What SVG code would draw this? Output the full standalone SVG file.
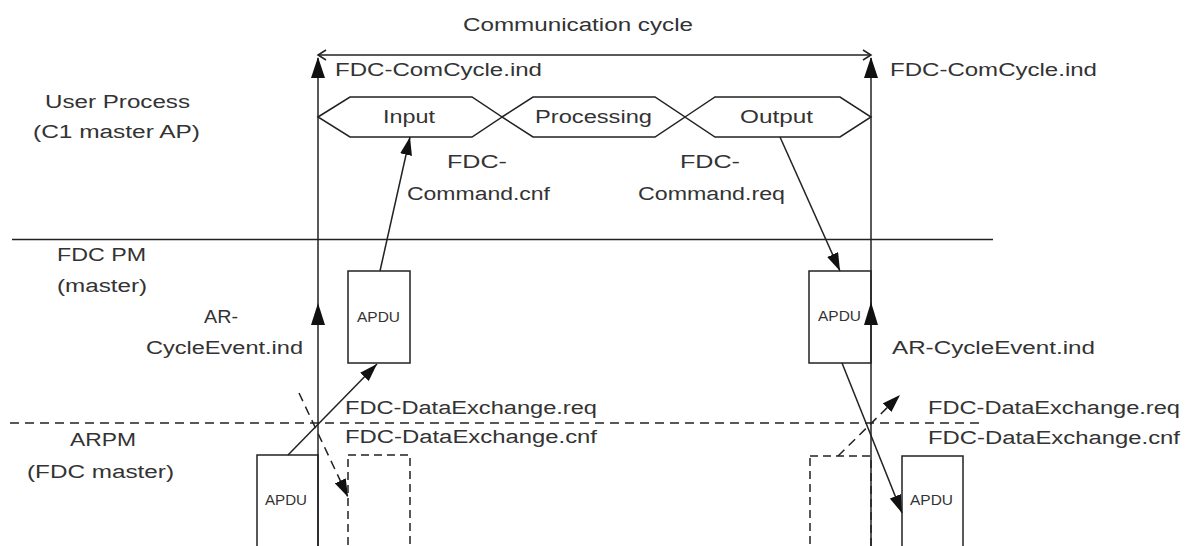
<svg xmlns="http://www.w3.org/2000/svg" width="1189" height="546" viewBox="0 0 1189 546">
  <style>
    .t { font-family: "Liberation Sans", Arial, sans-serif; font-size: 18px; fill: #333; }
    .s { font-family: "Liberation Sans", Arial, sans-serif; font-size: 15px; fill: #333; }
    .ln { stroke: #222; stroke-width: 1.5; fill: none; }
    .dash { stroke: #222; stroke-width: 1.5; fill: none; stroke-dasharray: 9 6; }
    .box { stroke: #222; stroke-width: 1.5; fill: #fff; }
    .dbox { stroke: #222; stroke-width: 1.5; fill: none; stroke-dasharray: 8 5; }
    .head { fill: #111; stroke: none; }
  </style>
  <defs>
    <marker id="arrow" markerUnits="userSpaceOnUse" markerWidth="18" markerHeight="12" viewBox="0 0 18 12" refX="18" refY="6" orient="auto">
      <path d="M0,0 L18,6 L0,12 z" fill="#111"/>
    </marker>
  </defs>
  <rect width="1189" height="546" fill="#fff"/>

  <!-- layer labels -->
  <g id="labels">
    <text class="t" x="463" y="31" textLength="230" lengthAdjust="spacingAndGlyphs">Communication cycle</text>
    <text class="t" x="45" y="108" textLength="145" lengthAdjust="spacingAndGlyphs">User Process</text>
    <text class="t" x="33" y="138" textLength="167" lengthAdjust="spacingAndGlyphs">(C1 master AP)</text>
    <text class="t" x="57" y="261" textLength="89" lengthAdjust="spacingAndGlyphs">FDC PM</text>
    <text class="t" x="57" y="292" textLength="90" lengthAdjust="spacingAndGlyphs">(master)</text>
    <text class="t" x="70" y="446" textLength="66" lengthAdjust="spacingAndGlyphs">ARPM</text>
    <text class="t" x="27" y="478" textLength="147" lengthAdjust="spacingAndGlyphs">(FDC master)</text>
  </g>

  <!-- layer boundaries -->
  <g id="boundaries">
    <line class="ln" x1="12" y1="239.5" x2="993" y2="239.5"/>
    <line class="dash" x1="10" y1="423" x2="985" y2="423"/>
  </g>

  <!-- process phases -->
  <g id="phase-input">
    <polygon class="ln" points="318,117 350,97 472,97 502,117 472,137 350,137"/>
    <text class="t" x="383" y="123" textLength="52" lengthAdjust="spacingAndGlyphs">Input</text>
  </g>
  <g id="phase-processing">
    <polygon class="ln" points="502,117 533,97 655,97 685,117 655,137 533,137"/>
    <text class="t" x="535" y="123" textLength="117" lengthAdjust="spacingAndGlyphs">Processing</text>
  </g>
  <g id="phase-output">
    <polygon class="ln" points="685,117 715,97 840,97 871,117 840,137 715,137"/>
    <text class="t" x="740" y="123" textLength="73" lengthAdjust="spacingAndGlyphs">Output</text>
  </g>

  <!-- APDU boxes -->
  <g id="apdu-pm-left">
    <rect class="box" x="348" y="271" width="62" height="92"/>
    <text class="s" x="357" y="322" textLength="43" lengthAdjust="spacingAndGlyphs">APDU</text>
  </g>
  <g id="apdu-pm-right">
    <rect class="box" x="809" y="271" width="62" height="92"/>
    <text class="s" x="818" y="321" textLength="43" lengthAdjust="spacingAndGlyphs">APDU</text>
  </g>
  <g id="apdu-arpm-left">
    <rect class="box" x="257" y="455" width="61" height="100"/>
    <text class="s" x="265" y="505" textLength="42" lengthAdjust="spacingAndGlyphs">APDU</text>
  </g>
  <g id="slot-arpm-left">
    <rect class="dbox" x="348" y="455" width="62" height="100"/>
  </g>
  <g id="slot-arpm-right">
    <rect class="dbox" x="810" y="456" width="61" height="100"/>
  </g>
  <g id="apdu-arpm-right">
    <rect class="box" x="902" y="456" width="61" height="100"/>
    <text class="s" x="910" y="505" textLength="43" lengthAdjust="spacingAndGlyphs">APDU</text>
  </g>

  <!-- connectors -->
  <g id="connectors">
    <!-- cycle span -->
    <line class="ln" x1="318" y1="55" x2="871" y2="55"/>
    <polyline class="ln" points="326,50 318,55 326,60"/>
    <polyline class="ln" points="863,50 871,55 863,60"/>

    <!-- cycle boundaries -->
    <line class="ln" x1="318" y1="58" x2="318" y2="546"/>
    <line class="ln" x1="871" y1="58" x2="871" y2="546"/>
    <polygon class="head" points="318,57 311,78 325,78"/>
    <polygon class="head" points="871,57 864,78 878,78"/>
    <polygon class="head" points="318,303 311,325 325,325"/>
    <polygon class="head" points="871,302 864,325 878,325"/>

    <!-- primitives -->
    <line class="ln" x1="380" y1="271" x2="410" y2="137" marker-end="url(#arrow)"/>
    <line class="ln" x1="780" y1="137" x2="840" y2="271" marker-end="url(#arrow)"/>
    <line class="ln" x1="288" y1="455" x2="377" y2="364" marker-end="url(#arrow)"/>
    <line class="dash" x1="299" y1="393" x2="348" y2="497" marker-end="url(#arrow)"/>
    <line class="ln" x1="842" y1="363" x2="902" y2="513" marker-end="url(#arrow)"/>
    <line class="dash" x1="838" y1="456" x2="900" y2="395" marker-end="url(#arrow)"/>

    <!-- connector labels -->
    <text class="t" x="335" y="76" textLength="207" lengthAdjust="spacingAndGlyphs">FDC-ComCycle.ind</text>
    <text class="t" x="890" y="76" textLength="207" lengthAdjust="spacingAndGlyphs">FDC-ComCycle.ind</text>
    <text class="t" x="447" y="168" textLength="60" lengthAdjust="spacingAndGlyphs">FDC-</text>
    <text class="t" x="407" y="200" textLength="143" lengthAdjust="spacingAndGlyphs">Command.cnf</text>
    <text class="t" x="680" y="168" textLength="60" lengthAdjust="spacingAndGlyphs">FDC-</text>
    <text class="t" x="638" y="200" textLength="147" lengthAdjust="spacingAndGlyphs">Command.req</text>
    <text class="t" x="204" y="323" textLength="34" lengthAdjust="spacingAndGlyphs">AR-</text>
    <text class="t" x="146" y="354" textLength="157" lengthAdjust="spacingAndGlyphs">CycleEvent.ind</text>
    <text class="t" x="892" y="354" textLength="203" lengthAdjust="spacingAndGlyphs">AR-CycleEvent.ind</text>
    <text class="t" x="345" y="414" textLength="252" lengthAdjust="spacingAndGlyphs">FDC-DataExchange.req</text>
    <text class="t" x="345" y="443" textLength="252" lengthAdjust="spacingAndGlyphs">FDC-DataExchange.cnf</text>
    <text class="t" x="928" y="414" textLength="252" lengthAdjust="spacingAndGlyphs">FDC-DataExchange.req</text>
    <text class="t" x="928" y="444" textLength="252" lengthAdjust="spacingAndGlyphs">FDC-DataExchange.cnf</text>
  </g>
</svg>
